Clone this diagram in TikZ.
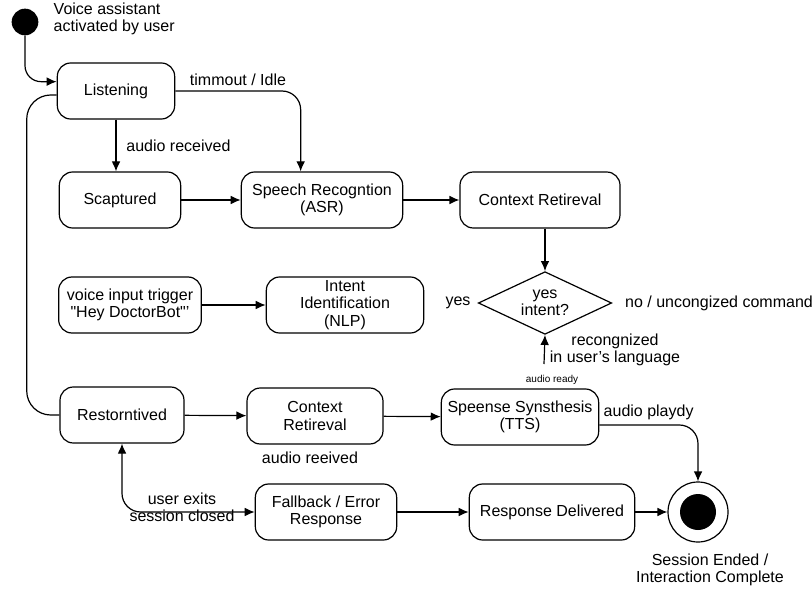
\documentclass[tikz,border=0pt]{standalone}
\usepackage{fontspec}
\setmainfont{Liberation Sans}
\usetikzlibrary{arrows.meta,shapes.geometric}

\begin{document}
\begin{tikzpicture}[x=0.75pt,y=-0.75pt,
  state/.style={draw, line width=0.9pt, rounded corners=10pt, align=center, minimum height=42pt, inner sep=2pt, font=\fontsize{12}{13}\selectfont},
  lbl/.style={align=center, font=\fontsize{12}{13}\selectfont},
  tinylbl/.style={align=center, font=\fontsize{7.5}{9}\selectfont},
  arr/.style={line width=0.9pt, -{Latex[length=7.5pt,width=6.5pt]}},
  arrboth/.style={line width=0.9pt, {Latex[length=7.5pt,width=6.5pt]}-{Latex[length=7.5pt,width=6.5pt]}}]
  \useasboundingbox (0,0) rectangle (812,591);
  \node[circle, fill=black, minimum size=20pt, inner sep=0pt] (start) at (25,22) {};
  \node[lbl, align=left, anchor=west] (startlbl) at (49,19) {Voice assistant\\activated by user};
  \node[state, minimum width=88pt] (listen) at (116,91) {Listening};
  \node[state, minimum width=91pt] (scap) at (120,200) {Scaptured};
  \node[state, minimum width=121pt] (asr) at (322,200) {Speech Recogntion\\(ASR)};
  \node[state, minimum width=120pt] (ctx) at (540,200) {Context Retireval};
  \node[state, minimum width=107pt] (trigger) at (130,305) {voice input trigger\\\textquotedbl Hey DoctorBot\textquotedbl'};
  \node[state, minimum width=118pt] (nlp) at (345,305) {Intent\\Identification\\(NLP)};
  \node[diamond, draw, line width=0.9pt, aspect=2.1, inner sep=0pt, minimum width=100pt, minimum height=47pt, lbl] (intent) at (545,303) {yes\\intent?};
  \node[lbl] (yeslbl) at (458,303) {yes};
  \node[lbl] (nolbl) at (719,303) {no / uncongized command};
  \coordinate (recog) at (544,364);
  \node[lbl] (recoglbl) at (615,350) {recongnized\\in user's language};
  \node[tinylbl] (readylbl) at (552,380) {audio ready};
  \node[state, minimum width=93pt] (rest) at (122,415) {Restorntived};
  \node[state, minimum width=102pt] (ctxb) at (315,416) {Context\\Retireval};
  \node[state, minimum width=118pt] (tts) at (520,417) {Speense Synsthesis\\(TTS)};
  \node[lbl] (reeivedlbl) at (310,458) {audio reeived};
  \node[state, minimum width=106pt] (fallback) at (326,512) {Fallback / Error\\Response};
  \node[state, minimum width=124pt] (resp) at (552,512) {Response Delivered};
  \node[circle, draw, line width=0.9pt, minimum size=45pt, inner sep=0pt] (final) at (698,512) {};
  \node[circle, fill=black, minimum size=27pt, inner sep=0pt] (finaldot) at (final) {};
  \node[lbl] (endlbl) at (710,570) {Session Ended /\\Interaction Complete};
  \node[lbl] (exitlbl) at (182,507) {user exits\\session closed};

  \draw[arr, rounded corners=12pt] (start.south) |- ([yshift=7pt]listen.west);
  \draw[arr, rounded corners=14pt] (listen.east) -| ([xshift=-16pt]asr.north) node[lbl, pos=0.25, above] (idlelbl) {timmout / Idle};
  \draw[arr] (listen.south) -- (listen.south |- scap.north) node[lbl, midway, right=4pt] (audiolbl) {audio received};
  \draw[arr] (scap) -- (asr);
  \draw[arr] (asr) -- (ctx);
  \draw[arr] (intent.north |- ctx.south) -- (intent.north);
  \draw[arr] (recog) -- (intent.south);
  \draw[arr] (trigger) -- (nlp);
  \draw[line width=0.9pt, rounded corners=18pt] ([yshift=-3pt]listen.west) -- ++(-30,0) |- (rest.west);
  \draw[arr] (rest) -- (ctxb);
  \draw[arr] (ctxb) -- (tts);
  \draw[arr, rounded corners=14pt] ([yshift=-6pt]tts.east) -| (final.north) node[lbl, pos=0.25, above] (playlbl) {audio playdy};
  \draw[arr] (fallback) -- (resp);
  \draw[arr] (resp) -- (final);
  \draw[arrboth, rounded corners=14pt] (fallback.west) -| (rest.south);
\end{tikzpicture}
\end{document}
